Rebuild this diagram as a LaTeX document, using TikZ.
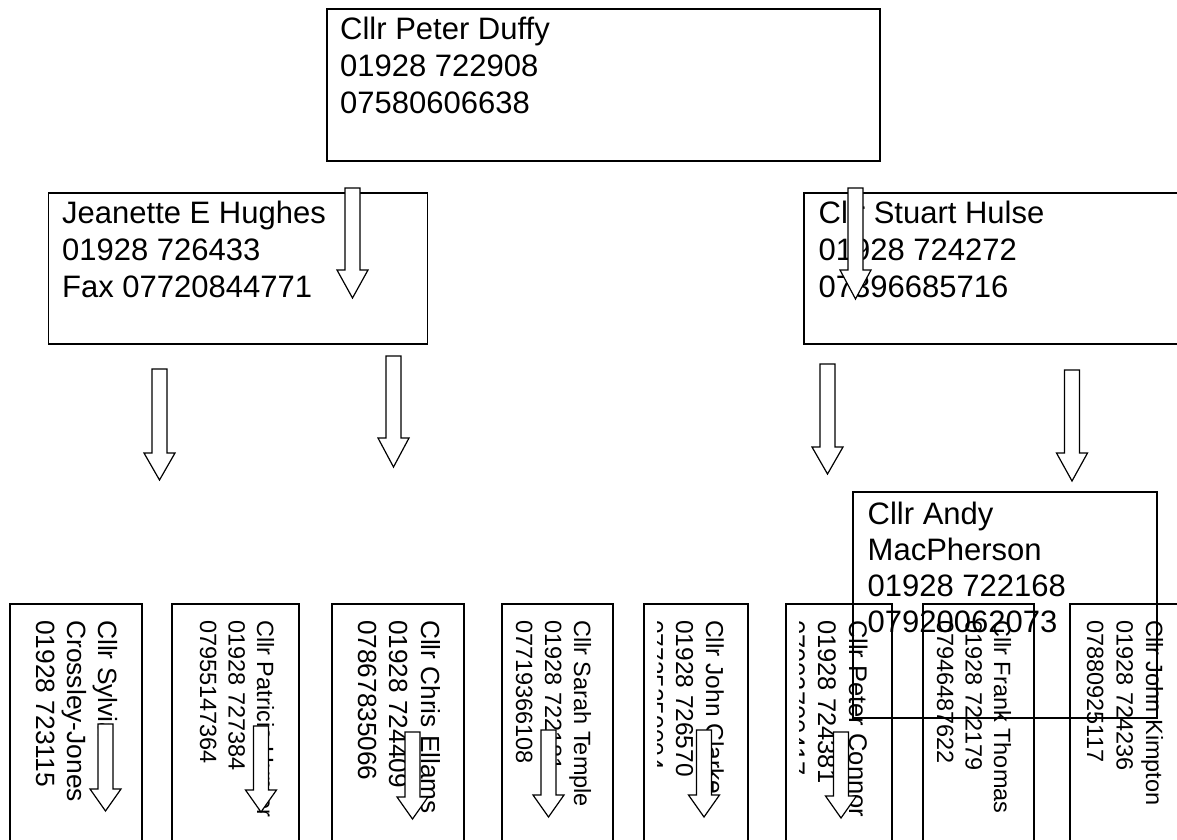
\documentclass[tikz,border=0pt]{standalone}
\usepackage{fontspec}
\setmainfont{Liberation Sans}
\usepackage{tikz}
\def\blkarrow[#1](#2,#3)(#4:#5){\draw[#1] ({#2-7.5},#3) -- ({#2+7.5},#3) -- ({#2+7.5},{#3+#4-#5}) -- ({#2+15.5},{#3+#4-#5}) -- (#2,{#3+#4}) -- ({#2-15.5},{#3+#4-#5}) -- ({#2-7.5},{#3+#4-#5}) -- cycle;}
\tikzset{
	frame/.style={line width=1.8pt},
	blk/.style={line width=1.2pt, fill=white},
	htext/.style={anchor=base west, inner sep=0pt, font=\fontsize{31}{37}\selectfont},
	vtext/.style={anchor=base west, inner sep=0pt, rotate=-90, font=\fontsize{#1}{#1}\selectfont},
}

\begin{document}
\begin{tikzpicture}[x=1pt, y=-1pt]
			%%%%% START %%%%%
			\clip (0,0) rectangle (1177,839);
			
			\draw[frame] (327,9) rectangle (880,161);
			\foreach \t [count=\i from 0] in {Cllr Peter Duffy, 01928 722908, 07580606638}
				\node[htext] (duffy\i) at (340,{39+37*\i}) {\t};
			
			\draw[frame] (48.5,193) rectangle (427.5,344);
			\foreach \t [count=\i from 0] in {Jeanette E Hughes, 01928 726433, Fax 07720844771}
				\node[htext] (hughes\i) at (62,{223+37*\i}) {\t};
			
			\draw[frame] (804,193) rectangle (1200,344);
			\foreach \t [count=\i from 0] in {Cllr Stuart Hulse, 01928 724272, 07396685716}
				\node[htext] (hulse\i) at (818.5,{223+37*\i}) {\t};
			
			\blkarrow[blk](352.5,188)(110:28);
			\blkarrow[blk](855.5,188)(111:29);
			\blkarrow[blk](159.5,369)(111:27);
			\blkarrow[blk](393.5,356)(111:29);
			\blkarrow[blk](827.5,364)(110:27);
			\blkarrow[blk](1072,370)(111:28);
			
			\draw[frame] (853,492) rectangle (1157,718);
			\foreach \t [count=\i from 0] in {Cllr Andy, MacPherson, 01928 722168, 07920062073}
				\node[htext] (macpherson\i) at (867.5,{524+36*\i}) {\t};
			
			% bottom row
			\draw[frame] (10,604) rectangle (142,860);
			\foreach \t [count=\i from 0] in {Cllr Sylvia, Crossley-Jones, 01928 723115}
				\node[vtext=26.4] (crossley\i) at ({98-31*\i},620) {\t};
			
			\draw[frame] (172,604) rectangle (299,860);
			\foreach \t [count=\i from 0] in {Cllr Patricia Hunter, 01928 727384, 07955147364}
				\node[vtext=23.5] (patricia\i) at ({257-28.5*\i},620) {\t};
			
			\draw[frame] (332,604) rectangle (464,860);
			\foreach \t [count=\i from 0] in {Cllr Chris Ellams, 01928 724409, 07867835066}
				\node[vtext=26.2] (ellams\i) at ({421-31.5*\i},620) {\t};
			
			\draw[frame] (502,604) rectangle (613,860);
			\foreach \t [count=\i from 0] in {Cllr Sarah Temple, 01928 722181, 07719366108}
				\node[vtext=23.5] (temple\i) at ({574-29*\i},620) {\t};
			
			\draw[frame] (644,604) rectangle (748,860);
			\begin{scope}
				\clip (657,604) rectangle (748,860);
				\foreach \t [count=\i from 0] in {Cllr John Clarke, 01928 726570, 07735250004}
					\node[vtext=24.5] (clarke\i) at ({706-30*\i},620) {\t};
			\end{scope}
			
			\draw[frame] (786,604) rectangle (892,860);
			\begin{scope}
				\clip (799,604) rectangle (892,860);
				\foreach \t [count=\i from 0] in {Cllr Peter Connor, 01928 724381, 07903700417}
					\node[vtext=25.5] (connor\i) at ({849-31*\i},620) {\t};
			\end{scope}
			
			\draw[frame] (923,604) rectangle (1034,860);
			\foreach \t [count=\i from 0] in {Cllr Frank Thomas, 01928 722179, 07946487622}
				\node[vtext=23.5] (thomas\i) at ({994-28.5*\i},620) {\t};
			
			\draw[frame] (1070,604) rectangle (1200,860);
			\foreach \t [count=\i from 0] in {Cllr John Kimpton, 01928 724236, 07880925117}
				\node[vtext=23.5] (kimpton\i) at ({1146-29.5*\i},620) {\t};
			
			\blkarrow[blk](105.5,724)(87:22);
			\blkarrow[blk](261,726)(86:22);
			\blkarrow[blk](412.5,732)(87:22);
			\blkarrow[blk](548.5,730)(87:22);
			\blkarrow[blk](704,730)(87:22);
			\blkarrow[blk](841,732)(86:22);
			
			%%%%% END %%%%%
\end{tikzpicture}
\end{document}
